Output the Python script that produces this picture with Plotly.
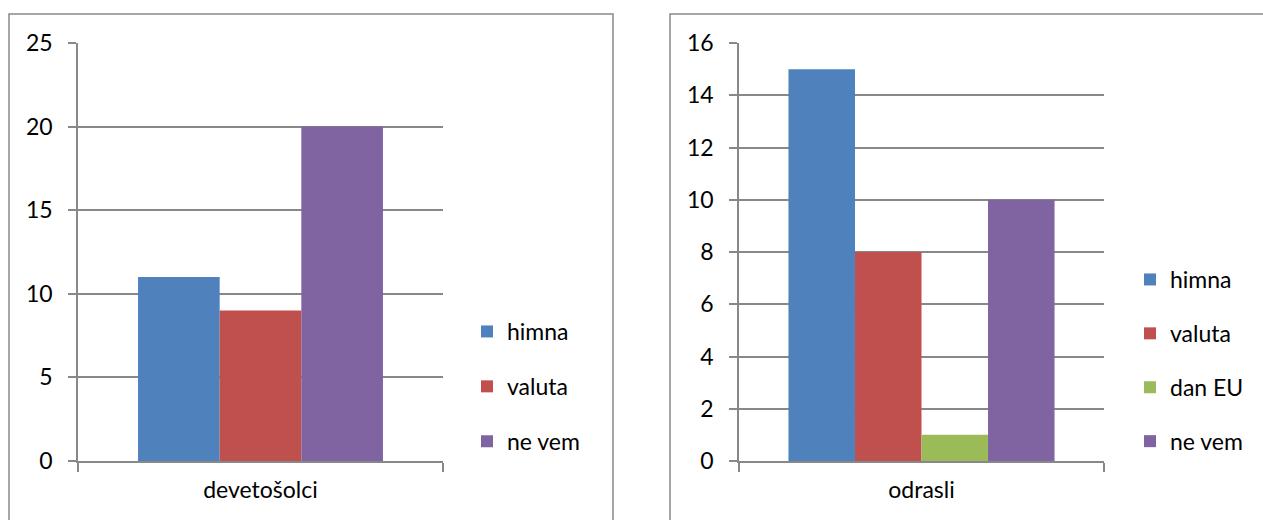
import plotly.graph_objects as go

# Data
left_category = ["devetošolci"]
left_series = ["himna", "valuta", "ne vem"]
left_values = [11, 9, 20]

right_category = ["odrasli"]
right_series = ["himna", "valuta", "dan EU", "ne vem"]
right_values = [15, 8, 1, 10]

colors = {"himna": "#4F81BD", "valuta": "#C0504D", "dan EU": "#9BBB59", "ne vem": "#8064A2"}

W, H = 1263, 520
FONT = "Lato"
FS = 23
GRID = "#888888"
LW = 1.5

def px(x):
    return x / W

def py(y):
    return 1 - y / H

fig = go.Figure()

def add_group(cats, names, vals, gap, xa, ya, lg, prefix):
    total = 1 - gap
    w = total / len(names)
    for i, (name, v) in enumerate(zip(names, vals)):
        fig.add_trace(go.Bar(x=cats, y=[v], name=name, marker_color=colors[name],
                             marker_line_width=0, xaxis=xa, yaxis=ya, legend=lg,
                             legendgroup=prefix + name, width=w, offset=-total / 2 + i * w))

add_group(left_category, left_series, left_values, 0.329, "x", "y", "legend", "L")
add_group(right_category, right_series, right_values, 0.271, "x2", "y2", "legend2", "R")

axis_common_x = dict(showline=True, linecolor=GRID, linewidth=LW, ticks="outside", ticklen=9,
                     tickcolor=GRID, tickwidth=LW, tickson="boundaries", showgrid=False,
                     automargin=False,
                     tickfont=dict(family=FONT, size=FS, color="#000"), ticklabelstandoff=8)
axis_common_y = dict(showline=True, linecolor=GRID, linewidth=LW, ticks="outside", ticklen=8,
                     tickcolor=GRID, tickwidth=LW, showgrid=True, gridcolor=GRID, gridwidth=LW,
                     zeroline=False, automargin=False,
                     tickfont=dict(family=FONT, size=FS, color="#000"), ticklabelstandoff=11)

legend_common = dict(xanchor="left", yanchor="top", font=dict(family=FONT, size=FS, color="#000"),
                     itemwidth=30, bgcolor="rgba(0,0,0,0)", traceorder="grouped")

fig.update_layout(
    width=W, height=H, margin=dict(l=0, r=0, t=0, b=0, autoexpand=False),
    paper_bgcolor="white", plot_bgcolor="white",
    barmode="overlay",
    xaxis=dict(domain=[px(78), px(443)], anchor="y", **axis_common_x),
    yaxis=dict(domain=[py(461), py(43)], anchor="x", range=[0, 25], dtick=5, **axis_common_y),
    xaxis2=dict(domain=[px(739), px(1104)], anchor="y2", **axis_common_x),
    yaxis2=dict(domain=[py(461), py(43)], anchor="x2", range=[0, 16], dtick=2, **axis_common_y),
    legend=dict(x=px(467), y=py(310), tracegroupgap=22, **legend_common),
    legend2=dict(x=px(1130), y=py(258), tracegroupgap=21, **legend_common),
    shapes=[
        dict(type="rect", xref="paper", yref="paper", x0=px(9), x1=px(613), y0=py(540), y1=py(14),
             line=dict(color=GRID, width=1.5), layer="below"),
        dict(type="rect", xref="paper", yref="paper", x0=px(670), x1=px(1290), y0=py(540), y1=py(14),
             line=dict(color=GRID, width=1.5), layer="below"),
    ],
)

fig.write_html("out.html", config={"displayModeBar": False},
               post_script="document.body.style.margin='0';document.body.style.overflow='hidden';")
